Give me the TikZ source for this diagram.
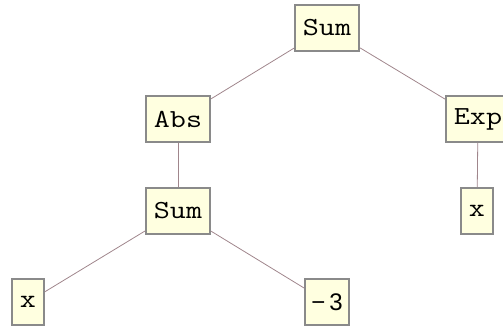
\documentclass[tikz,border=0pt]{standalone}
\usepackage{fontspec}
\newfontfamily\numfont{Liberation Sans}
\definecolor{boxfill}{HTML}{FFFFE0}
\definecolor{boxline}{HTML}{8A8A8A}
\definecolor{edgecol}{HTML}{A0868C}
\newcommand{\wide}[1]{\scalebox{1.2}[1]{#1}}
\tikzset{
  treenode/.style={draw=boxline, line width=2pt, fill=boxfill, inner xsep=8pt, inner ysep=0pt,
    minimum height=46pt, font=\fontsize{26}{26}\selectfont\ttfamily, anchor=center},
  treeedge/.style={draw=edgecol, line width=0.8pt}
}
\begin{document}
\begin{tikzpicture}[x=1pt,y=-1pt]
\clip (0,0) rectangle (503,328);
\useasboundingbox (0,0) rectangle (503,328);
\node[treenode] (sum1) at (327,28) {\wide{Sum}};
\node[treenode] (abs) at (178,119) {\wide{Abs}};
\node[treenode] (exp) at (478,119) {\wide{Exp}};
\node[treenode] (sum2) at (178,211) {\wide{Sum}};
\node[treenode] (x2) at (477,211) {\wide{x}};
\node[treenode] (x1) at (28,302) {\wide{x}};
\node[treenode, font=\fontsize{24}{24}\selectfont\numfont, inner xsep=6pt] (m3) at (327,302) {−\,3};
\draw[treeedge] (sum1) -- (abs);
\draw[treeedge] (sum1) -- (exp);
\draw[treeedge] (abs) -- (sum2);
\draw[treeedge] (sum2) -- (x1);
\draw[treeedge] (sum2) -- (m3);
\draw[treeedge] (exp) -- (x2);
\end{tikzpicture}
\end{document}
